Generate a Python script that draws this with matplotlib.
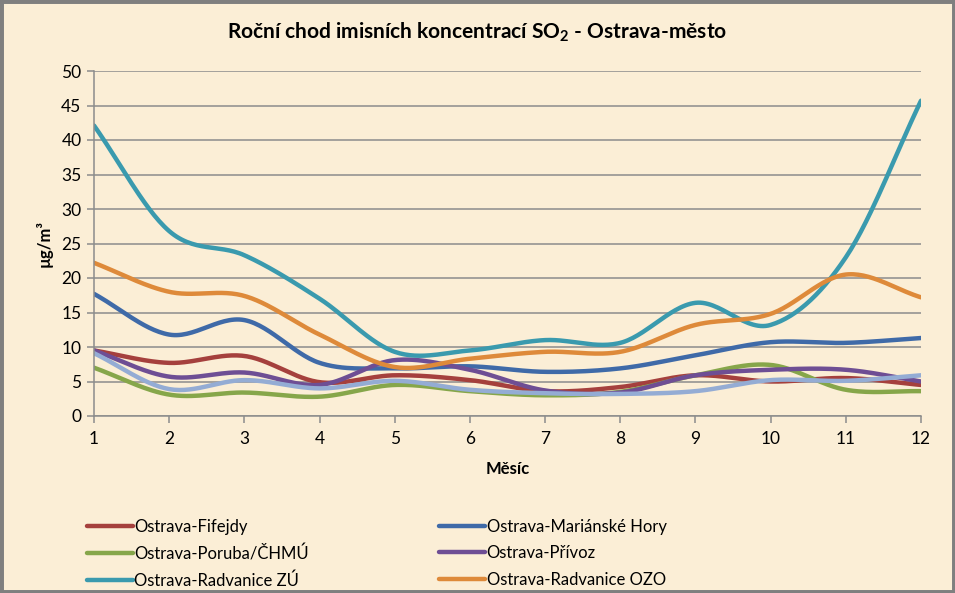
import numpy as np
import matplotlib
matplotlib.use("Agg")
import matplotlib.pyplot as plt
from matplotlib.patches import Rectangle

plt.rcParams["font.family"] = ["Lato", "DejaVu Sans"]

# =====================================================
# DATA (monthly mean SO2, ug/m3)
# =====================================================
months = np.arange(1, 13)

fifejdy = [9.5, 7.7, 8.7, 4.9, 5.9, 5.2, 3.6, 4.2, 5.9, 5.0, 5.5, 4.5]
marianske = [17.7, 11.8, 13.9, 7.7, 6.9, 7.2, 6.4, 6.9, 8.8, 10.7, 10.6, 11.3]
poruba = [7.0, 3.1, 3.4, 2.8, 4.5, 3.6, 3.0, 3.5, 5.9, 7.4, 3.8, 3.6]
privoz = [9.5, 5.7, 6.3, 4.5, 8.1, 6.7, 3.7, 3.4, 5.9, 6.7, 6.7, 5.0]
radvanice_zu = [42.1, 26.8, 23.3, 17.0, 9.3, 9.5, 11.0, 10.6, 16.4, 13.2, 23.0, 45.7]
radvanice_ozo = [22.2, 18.0, 17.4, 11.8, 7.1, 8.3, 9.3, 9.3, 13.2, 14.8, 20.5, 17.2]
zabreh = [9.1, 3.9, 5.2, 4.0, 5.1, 3.8, 3.3, 3.2, 3.6, 5.2, 5.1, 5.9]

series = [
    ("Ostrava-Fifejdy", fifejdy, "#A5403D"),
    ("Ostrava-Mariánské Hory", marianske, "#3F6AA8"),
    ("Ostrava-Poruba/ČHMÚ", poruba, "#86A64A"),
    ("Ostrava-Přívoz", privoz, "#6E4E94"),
    ("Ostrava-Radvanice ZÚ", radvanice_zu, "#3A9AAE"),
    ("Ostrava-Radvanice OZO", radvanice_ozo, "#DE8A3A"),
    (None, zabreh, "#94ACD4"),
]


# =====================================================
# Helper: smoothed line like the spreadsheet "smooth line"
# =====================================================
def smooth(x, y, n=30):
    x = np.asarray(x, float)
    y = np.asarray(y, float)
    px = np.concatenate([[2 * x[0] - x[1]], x, [2 * x[-1] - x[-2]]])
    py = np.concatenate([[2 * y[0] - y[1]], y, [2 * y[-1] - y[-2]]])
    xs, ys = [], []
    t = np.linspace(0, 1, n, endpoint=False)
    for i in range(1, len(px) - 2):
        p0, p1, p2, p3 = py[i - 1], py[i], py[i + 1], py[i + 2]
        q0, q1, q2, q3 = px[i - 1], px[i], px[i + 1], px[i + 2]
        a = 0.5 * (2 * p1 + (-p0 + p2) * t + (2 * p0 - 5 * p1 + 4 * p2 - p3) * t**2
                   + (-p0 + 3 * p1 - 3 * p2 + p3) * t**3)
        b = 0.5 * (2 * q1 + (-q0 + q2) * t + (2 * q0 - 5 * q1 + 4 * q2 - q3) * t**2
                   + (-q0 + 3 * q1 - 3 * q2 + q3) * t**3)
        xs.append(b)
        ys.append(a)
    xs.append([x[-1]])
    ys.append([y[-1]])
    return np.concatenate(xs), np.concatenate(ys)


# =====================================================
# FIGURE
# =====================================================
bg = "#FBEED6"
fig = plt.figure(figsize=(9.55, 5.93), dpi=100, facecolor=bg)
fig.patches.append(Rectangle((0, 0), 1, 1, transform=fig.transFigure,
                             fill=False, edgecolor="#7F7F7F", linewidth=5))

W, H = 955, 593
ax = fig.add_axes([94 / W, 1 - 416 / H, (921 - 94) / W, (416 - 71) / H])
ax.set_facecolor("none")

handles = []
for name, vals, col in series:
    sx, sy = smooth(months, vals)
    ln, = ax.plot(sx, sy, color=col, linewidth=3.2, solid_capstyle="round",
                  label=name if name else "_nolegend_")
    if name:
        handles.append(ln)

ax.set_xlim(1, 12)
ax.set_ylim(0, 50)
ax.set_xticks(months)
ax.set_yticks(np.arange(0, 51, 5))
ax.grid(axis="y", color="#8C8C8C", linewidth=1.1)
ax.set_axisbelow(True)
for s in ["top", "right"]:
    ax.spines[s].set_visible(False)
for s in ["left", "bottom"]:
    ax.spines[s].set_color("#8C8C8C")
    ax.spines[s].set_linewidth(1.1)
ax.tick_params(axis="both", colors="#8C8C8C", length=5, width=1.1,
               labelsize=12.5, labelcolor="black")
ax.tick_params(axis="x", pad=6)
ax.tick_params(axis="y", pad=4)

ax.set_xlabel("Měsíc", fontsize=12, fontweight="bold", labelpad=10)
ax.set_ylabel("µg/m³", fontsize=12, fontweight="bold", labelpad=6)

fig.text(0.5, 1 - 32 / H, "Roční chod imisních koncentrací SO$_\\mathregular{2}$ - Ostrava-město",
         ha="center", va="center", fontsize=15, fontweight="bold")

# legend: 2 columns filled row by row
order = [0, 2, 4, 1, 3, 5]
leg_h = [handles[i] for i in order]
leg = fig.legend(handles=leg_h, labels=[h.get_label() for h in leg_h],
                 ncol=2, loc="upper left", bbox_to_anchor=(72 / W, 1 - 504 / H),
                 frameon=False, fontsize=12, handlelength=2.75, handletextpad=0.1,
                 columnspacing=7.8, labelspacing=0.62)

plt.savefig("out.png", dpi=100, facecolor=bg)
